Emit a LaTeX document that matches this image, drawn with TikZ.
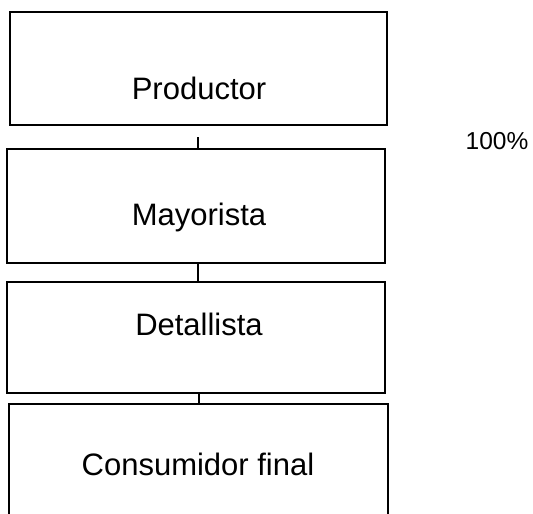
\documentclass[tikz,border=0pt]{standalone}
\usepackage{fontspec}
\setmainfont{Liberation Sans}
\begin{document}
\begin{tikzpicture}[x=1pt,y=-1pt,
  stagebox/.style={draw=black,line width=1.9pt,inner sep=0pt},
  stagetext/.style={anchor=base,inner sep=0pt,font=\fontsize{31}{37}\selectfont},
  link/.style={draw=black,line width=1.9pt}]
\useasboundingbox (0,0) rectangle (533,514);
% boxes
\node[stagebox,minimum width=377pt,minimum height=113pt] (p) at (198.5,68.5) {};
\node[stagebox,minimum width=378pt,minimum height=114pt] (m) at (196,206) {};
\node[stagebox,minimum width=378pt,minimum height=111pt] (d) at (196,337.5) {};
\begin{scope}
\clip (0,0) rectangle (533,514);
\node[stagebox,minimum width=379pt,minimum height=114pt] (c) at (198.5,461) {};
\end{scope}
% texts
\node[stagetext] (tp) at (199,99.5) {Productor};
\node[stagetext] (tm) at (199,225.5) {Mayorista};
\node[stagetext] (td) at (199,335.5) {Detallista};
\node[stagetext] (tc) at (198,475.5) {Consumidor final};
\node[anchor=base,inner sep=0pt,font=\fontsize{24.5}{29}\selectfont] (pct) at (497,149) {100\%};
% connectors
\coordinate (s1) at (198,137);
\draw[link] (s1) -- (s1 |- m.north);
\draw[link] (m.south -| s1) -- (d.north -| s1);
\draw[link] ([xshift=1pt]d.south -| s1) -- ([xshift=1pt]c.north -| s1);
\end{tikzpicture}
\end{document}
